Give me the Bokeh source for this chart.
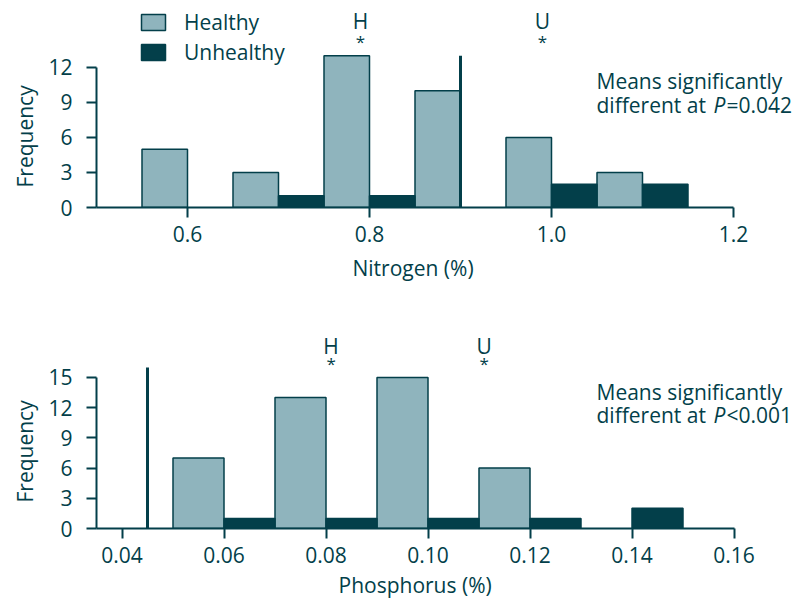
import math
from bokeh.plotting import figure
from bokeh.models import FixedTicker, Label, Legend, LegendItem, Range1d, Title
from bokeh.layouts import column
from bokeh.embed import file_html
from bokeh.resources import INLINE
from bokeh.core.properties import value

# ------------------------------------------------------------------ data
mean_labels = ["H", "U"]

# Nitrogen panel
n_bin_width = 0.05
n_healthy_left = [0.55, 0.65, 0.75, 0.85, 0.95, 1.05]
n_healthy_count = [5, 3, 13, 10, 6, 3]
n_unhealthy_left = [0.70, 0.80, 1.00, 1.10]
n_unhealthy_count = [1, 1, 2, 2]
n_xticks = [0.6, 0.8, 1.0, 1.2]
n_xtick_labels = ["0.6", "0.8", "1.0", "1.2"]
n_yticks = [0, 3, 6, 9, 12]
n_xbounds = (0.5, 1.2)
n_threshold = 0.9
n_threshold_top = 13
n_means = [0.79, 0.99]
n_sig = ["Means significantly", "different at ", "P", "=0.042"]
n_xlabel = "Nitrogen (%)"

# Phosphorus panel
p_bin_width = 0.01
p_healthy_left = [0.05, 0.07, 0.09, 0.11]
p_healthy_count = [7, 13, 15, 6]
p_unhealthy_left = [0.06, 0.08, 0.10, 0.12, 0.14]
p_unhealthy_count = [1, 1, 1, 1, 2]
p_xticks = [0.04, 0.06, 0.08, 0.10, 0.12, 0.14, 0.16]
p_xtick_labels = ["0.04", "0.06", "0.08", "0.10", "0.12", "0.14", "0.16"]
p_yticks = [0, 3, 6, 9, 12, 15]
p_xbounds = (0.035, 0.16)
p_threshold = 0.045
p_threshold_top = 16
p_means = [0.081, 0.111]
p_sig = ["Means significantly", "different at ", "P", "<0.001"]
p_xlabel = "Phosphorus (%)"

ylabel = "Frequency"
legend_labels = ["Healthy", "Unhealthy"]

# ------------------------------------------------------------------ style
FONT = "Open Sans"
FS = "21px"
DARK = "#033f4a"
LIGHT = "#8fb4bd"
W = 797
LEFT = 96
FRAME_W = W - LEFT


def make_panel(height, frame_h, x_px_per_unit, y_px_per_unit,
               xbounds, yticks, xticks, xtick_labels,
               h_left, h_count, u_left, u_count, bw,
               thr_x, thr_top, means, sig, xlabel,
               letter_px, star_px, sig_px, xlabel_offset, xlabel_standoff,
               ylabel_offset, legend=False):
    x0 = xbounds[0]
    p = figure(width=W, height=height, output_backend="svg", toolbar_location=None,
               x_range=Range1d(x0, x0 + FRAME_W / x_px_per_unit),
               y_range=Range1d(0, frame_h / y_px_per_unit),
               min_border_left=LEFT, min_border_right=0, min_border_top=0,
               min_border_bottom=height - frame_h)
    p.outline_line_color = None
    p.grid.visible = False
    p.background_fill_color = "white"
    p.border_fill_color = "white"

    for ax in (p.xaxis[0], p.yaxis[0]):
        ax.axis_line_color = DARK
        ax.axis_line_width = 2
        ax.major_tick_line_color = DARK
        ax.major_tick_line_width = 2
        ax.major_tick_in = 0
        ax.major_tick_out = 10
        ax.minor_tick_line_color = None
        ax.major_label_text_font = FONT
        ax.major_label_text_font_size = FS
        ax.major_label_text_color = DARK
    p.xaxis[0].bounds = xbounds
    p.xaxis[0].ticker = FixedTicker(ticks=xticks)
    p.xaxis[0].major_label_overrides = {t: l for t, l in zip(xticks, xtick_labels)}
    p.xaxis[0].major_label_standoff = 8
    p.yaxis[0].bounds = (yticks[0], yticks[-1])
    p.yaxis[0].ticker = FixedTicker(ticks=yticks)
    p.yaxis[0].major_label_standoff = 14

    hr = p.quad(left=h_left, right=[l + bw for l in h_left], bottom=0, top=h_count,
                fill_color=LIGHT, line_color=DARK, line_width=1.5)
    ur = p.quad(left=u_left, right=[l + bw for l in u_left], bottom=0, top=u_count,
                fill_color=DARK, line_color=DARK, line_width=1.5)
    p.segment(x0=[thr_x], y0=[0], x1=[thr_x], y1=[thr_top], line_color=DARK, line_width=3)

    top_val = frame_h / y_px_per_unit
    p.text(x=means, y=[top_val - letter_px / y_px_per_unit] * len(means),
           text=mean_labels, text_font=value(FONT), text_font_size=FS,
           text_color=DARK, text_align="center", text_baseline="middle")
    p.text(x=means, y=[top_val - star_px / y_px_per_unit] * len(means),
           text=["*"] * len(means), text_font=value(FONT), text_font_size="17px",
           text_color=DARK, text_align="center", text_baseline="middle")

    # significance note
    (sx, l1y, l2y, px_, eqx) = sig_px
    for txt, xx, yy, style in [(sig[0], sx, l1y, "normal"), (sig[1], sx, l2y, "normal"),
                               (sig[2], px_, l2y, "italic"), (sig[3], eqx, l2y, "normal")]:
        p.add_layout(Label(x=xx, y=yy, x_units="screen", y_units="screen", text=txt,
                           text_font=FONT, text_font_size=FS, text_color=DARK,
                           text_font_style=style, text_align="left", text_baseline="middle"))

    # axis titles, placed along the axis extents
    p.add_layout(Title(text=xlabel, align="left", offset=xlabel_offset,
                       standoff=xlabel_standoff,
                       text_font=FONT, text_font_size=FS, text_font_style="normal",
                       text_color=DARK), "below")
    p.add_layout(Title(text=ylabel, align="left", offset=ylabel_offset, standoff=13,
                       text_font=FONT, text_font_size=FS, text_font_style="normal",
                       text_color=DARK), "left")

    if legend:
        lg = Legend(items=[LegendItem(label=legend_labels[0], renderers=[hr]),
                           LegendItem(label=legend_labels[1], renderers=[ur])],
                    location=(42, 141), glyph_width=30, glyph_height=20,
                    label_standoff=16, spacing=2, padding=0, margin=0,
                    border_line_color=None, background_fill_alpha=0,
                    label_text_font=FONT, label_text_font_size=FS,
                    label_text_color=DARK)
        p.add_layout(lg)
    return p


top = make_panel(300, 207, 910, 11.67, n_xbounds, n_yticks, n_xticks, n_xtick_labels,
                 n_healthy_left, n_healthy_count, n_unhealthy_left, n_unhealthy_count,
                 n_bin_width, n_threshold, n_threshold_top, n_means, n_sig, n_xlabel,
                 letter_px=20.5, star_px=40.5, sig_px=(500, 127, 103, 617, 630),
                 xlabel_offset=256, xlabel_standoff=14, ylabel_offset=20, legend=True)

bottom = make_panel(305, 228, 5100, 10.07, p_xbounds, p_yticks, p_xticks, p_xtick_labels,
                    p_healthy_left, p_healthy_count, p_unhealthy_left, p_unhealthy_count,
                    p_bin_width, p_threshold, p_threshold_top, p_means, p_sig, p_xlabel,
                    letter_px=45, star_px=63, sig_px=(500, 137, 114, 617, 630),
                    xlabel_offset=242, xlabel_standoff=6, ylabel_offset=26)

layout = column(top, bottom)
open("out.html", "w").write(file_html(layout, INLINE))
